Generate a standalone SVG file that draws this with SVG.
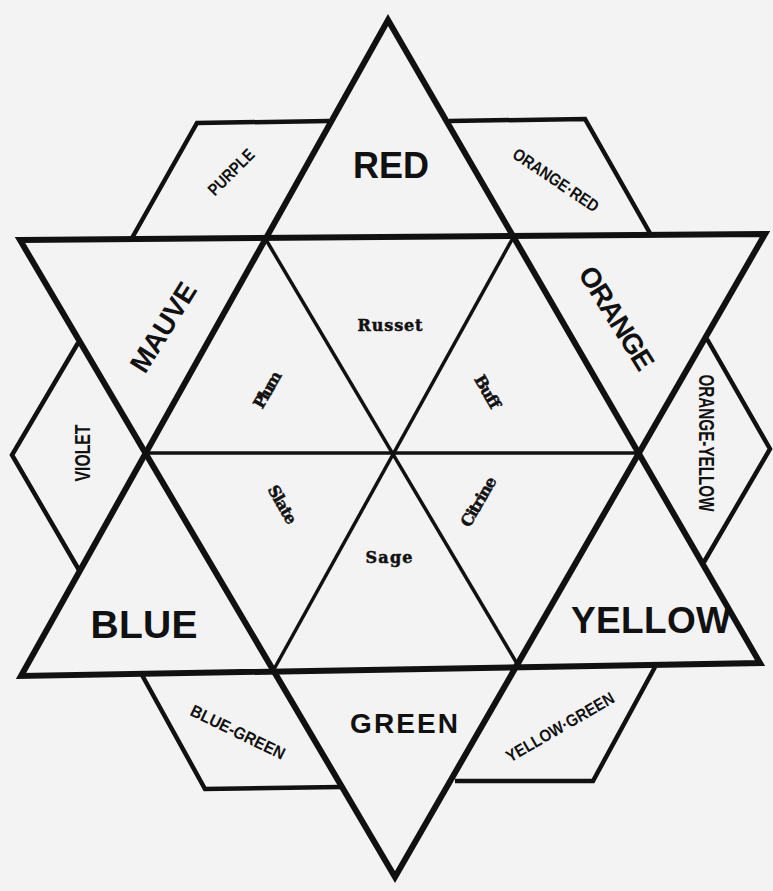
<svg xmlns="http://www.w3.org/2000/svg" width="773" height="891" viewBox="0 0 773 891">
<style>
.big{fill:none;stroke:#111;stroke-width:6;stroke-linejoin:miter;stroke-miterlimit:10}
.rh{fill:none;stroke:#111;stroke-width:4.5;stroke-linejoin:miter}
.in{fill:none;stroke:#111;stroke-width:3.5}
.main{font-family:"Liberation Sans","Arial",sans-serif;font-weight:bold;fill:#111}
.small{font-family:"Liberation Sans Narrow","Liberation Sans",sans-serif;font-weight:bold;fill:#111}
.ser{font-family:"DejaVu Serif","Liberation Serif",serif;font-weight:bold;fill:#111;stroke:#111;stroke-width:0.5}
</style>
<rect width="773" height="891" fill="#f3f3f3"/>
<g id="connectors">
  <polygon class="big" points="388,20 760,663 21,676"/>
  <polygon class="big" points="20,240 765,234 395,877"/>
  <line class="in" x1="145" y1="453" x2="641" y2="453"/>
  <line class="in" x1="265" y1="238" x2="519" y2="667"/>
  <line class="in" x1="514" y1="236" x2="273" y2="671"/>
  <polyline class="rh" points="132,238 197,123 329,121"/>
  <polyline class="rh" points="449,121 585,119 651,235"/>
  <polyline class="rh" points="707,339 770,449 704,562"/>
  <polyline class="rh" points="78,343 12,455 79,570"/>
  <polyline class="rh" points="142,675 205,789 340,787"/>
  <polyline class="rh" points="655,667 593,781 455,781"/>
</g>
<g id="red"><text class="main" x="391" y="178" font-size="36" text-anchor="middle">RED</text></g>
<g id="blue"><text class="main" x="144" y="638" font-size="39" text-anchor="middle" textLength="107">BLUE</text></g>
<g id="yellow"><text class="main" x="651" y="633" font-size="37" text-anchor="middle" textLength="160">YELLOW</text></g>
<g id="green"><text class="main" x="404" y="733" font-size="28" text-anchor="middle" textLength="108">GREEN</text></g>
<g id="mauve" transform="translate(163,327) rotate(-58)"><text class="main" x="0" y="10" font-size="28" text-anchor="middle" textLength="100">MAUVE</text></g>
<g id="orange" transform="translate(617,318) rotate(58)"><text class="main" x="0" y="10" font-size="28" text-anchor="middle" textLength="117">ORANGE</text></g>
<g id="purple" transform="translate(231,172) rotate(-45)"><text class="small" x="0" y="6" font-size="17" text-anchor="middle" textLength="58" lengthAdjust="spacingAndGlyphs">PURPLE</text></g>
<g id="orange-red" transform="translate(556,180) rotate(34)"><text class="small" x="0" y="6" font-size="17" text-anchor="middle" textLength="100" lengthAdjust="spacingAndGlyphs">ORANGE·RED</text></g>
<g id="violet" transform="translate(82,453) rotate(-90)"><text class="small" x="0" y="8" font-size="22" text-anchor="middle" textLength="57" lengthAdjust="spacingAndGlyphs">VIOLET</text></g>
<g id="orange-yellow" transform="translate(707,443) rotate(90)"><text class="small" x="0" y="8" font-size="22" text-anchor="middle" textLength="137" lengthAdjust="spacingAndGlyphs">ORANGE-YELLOW</text></g>
<g id="blue-green" transform="translate(238,732) rotate(26)"><text class="small" x="0" y="6" font-size="17" text-anchor="middle" textLength="103" lengthAdjust="spacingAndGlyphs">BLUE-GREEN</text></g>
<g id="yellow-green" transform="translate(560,727) rotate(-30)"><text class="small" x="0" y="6" font-size="17" text-anchor="middle" textLength="122" lengthAdjust="spacingAndGlyphs">YELLOW·GREEN</text></g>
<g id="russet"><text class="ser" x="390" y="331" font-size="16" text-anchor="middle" textLength="65">Russet</text></g>
<g id="sage"><text class="ser" x="389" y="563" font-size="16" text-anchor="middle" textLength="47">Sage</text></g>
<g id="plum" transform="translate(268,390) rotate(-60)"><text class="ser" x="0" y="5" font-size="16" text-anchor="middle" textLength="40">Plum</text></g>
<g id="buff" transform="translate(487,392) rotate(60)"><text class="ser" x="0" y="5" font-size="16" text-anchor="middle" textLength="36">Buff</text></g>
<g id="slate" transform="translate(282,505) rotate(60)"><text class="ser" x="0" y="5" font-size="16" text-anchor="middle" textLength="42">Slate</text></g>
<g id="citrine" transform="translate(479,502) rotate(-60)"><text class="ser" x="0" y="5" font-size="16" text-anchor="middle" textLength="55">Citrine</text></g>
</svg>
